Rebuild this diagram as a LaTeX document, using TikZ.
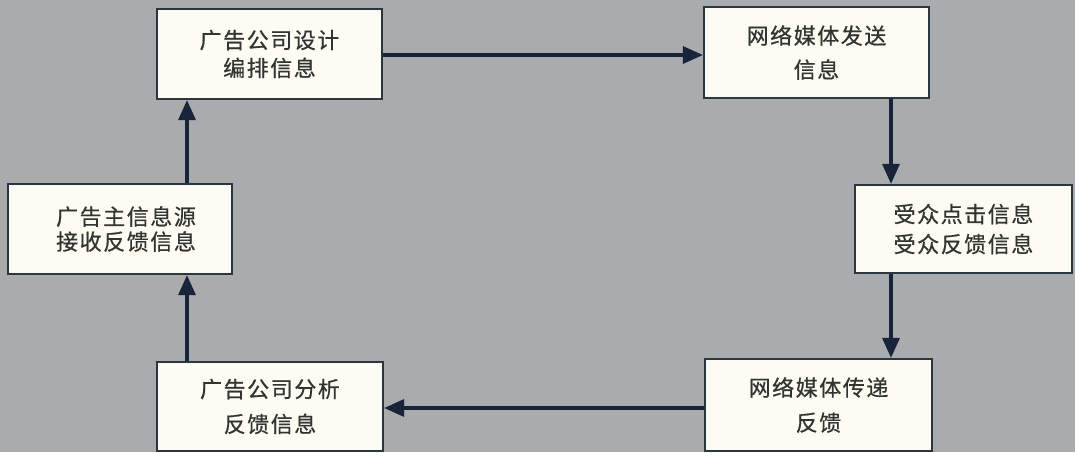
\documentclass[tikz,border=0pt]{standalone}
\usepackage{fontspec}
\newfontfamily\cjk[LetterSpace=7,FakeBold=0.6]{Noto Sans CJK SC}
\usetikzlibrary{arrows.meta}
\definecolor{bggrey}{HTML}{A9ABAD}
\definecolor{boxfill}{HTML}{FDFCF3}
\definecolor{boxline}{HTML}{2C3640}
\definecolor{flowline}{HTML}{17243A}
\definecolor{txt}{HTML}{333333}
\tikzset{
  stage/.style={draw=boxline, line width=2.2pt, fill=boxfill, rectangle,
    inner sep=0pt, align=center, text=txt,
    font=\cjk\fontsize{22}{#1}\selectfont},
  stage/.default=30,
  flow/.style={draw=flowline, line width=3.2pt,
    -{Triangle[length=20pt,width=17pt]}},
}
\begin{document}
\begin{tikzpicture}[x=1pt,y=-1pt]
  \fill[bggrey] (0,0) rectangle (1075,452);
  \useasboundingbox (0,0) rectangle (1075,452);

  % stages of the advertising information loop
  \node[stage=28, minimum width=225, minimum height=90] (b1) at (269.5,54)
    {广告公司设计\\编排信息};
  \node[stage=34, minimum width=225, minimum height=91] (b2) at (816.5,52.5)
    {网络媒体发送\\信息};
  \node[stage=30, minimum width=217, minimum height=88] (b3) at (963.5,229)
    {受众点击信息\\受众反馈信息};
  \node[stage=25, minimum width=224, minimum height=90] (b4) at (120,229)
    {\hspace*{12pt}广告主信息源\\\hspace*{12pt}接收反馈信息};
  \node[stage=35, minimum width=226, minimum height=89] (b5) at (270,406.5)
    {广告公司分析\\反馈信息};
  \node[stage=35, minimum width=227, minimum height=92] (b6) at (818.5,405)
    {网络媒体传递\\反馈};

  % columns and rows that the connectors follow
  \coordinate (colR) at (891,0);
  \coordinate (colL) at (187,0);
  \coordinate (rowT) at (0,55);
  \coordinate (rowB) at (0,408);

  \draw[flow] (b1.east |- rowT) -- (b2.west |- rowT);
  \draw[flow] (b2.south -| colR) -- (b3.north -| colR);
  \draw[flow] (b3.south -| colR) -- (b6.north -| colR);
  \draw[flow] (b6.west |- rowB) -- (b5.east |- rowB);
  \draw[flow] (b5.north -| colL) -- (b4.south -| colL);
  \draw[flow] (b4.north -| colL) -- (b1.south -| colL);
\end{tikzpicture}
\end{document}
